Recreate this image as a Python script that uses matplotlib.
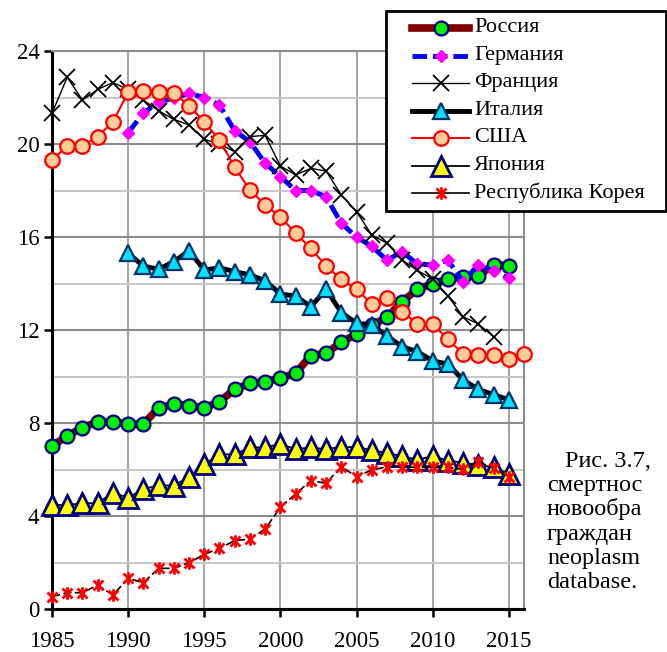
import numpy as np
import matplotlib
matplotlib.use("Agg")
import matplotlib.pyplot as plt
from matplotlib.patches import Rectangle
from matplotlib.path import Path


# --- data ---
years_ru = np.arange(1985, 2016)
russia = [7.0, 7.45, 7.8, 8.05, 8.05, 7.95, 7.95, 8.65, 8.82, 8.75, 8.65, 8.92, 9.45, 9.7,
          9.78, 9.93, 10.14, 10.9, 11.0, 11.47, 11.83, 12.2, 12.55, 13.22, 13.75, 14.0,
          14.18, 14.3, 14.34, 14.8, 14.77]

years_de = np.arange(1990, 2016)
germany = [20.49, 21.32, 21.82, 21.96, 22.18, 22.0, 21.68, 20.57, 20.1, 19.17, 18.6, 18.0,
           18.0, 17.73, 16.59, 16.0, 15.6, 15.0, 15.37, 14.83, 14.8, 15.0, 14.08, 14.8,
           14.54, 14.22]

years_fr = np.arange(1985, 2015)
france = [21.32, 22.87, 21.89, 22.35, 22.64, 22.35, 21.89, 21.43, 21.06, 20.82, 20.2, 20.0,
          19.67, 20.32, 20.37, 19.05, 18.67, 18.95, 18.84, 17.81, 17.09, 16.09, 15.73,
          15.01, 14.56, 14.2, 13.47, 12.57, 12.26, 11.71]

years_it = np.arange(1990, 2016)
italy = [15.3, 14.75, 14.61, 14.94, 15.41, 14.58, 14.68, 14.51, 14.37, 14.12, 13.55, 13.46,
         13.0, 13.75, 12.75, 12.29, 12.22, 11.74, 11.28, 11.07, 10.67, 10.54, 9.85, 9.45,
         9.22, 9.0]

years_us = np.arange(1985, 2017)
usa = [19.31, 19.91, 19.91, 20.32, 20.96, 22.22, 22.3, 22.25, 22.18, 21.65, 20.96, 20.17,
       19.0, 18.02, 17.38, 16.87, 16.16, 15.51, 14.75, 14.18, 13.75, 13.12, 13.36, 12.79,
       12.26, 12.26, 11.6, 10.97, 10.91, 10.91, 10.75, 10.97]

years_jp = np.arange(1985, 2016)
japan = [4.47, 4.47, 4.55, 4.55, 5.0, 4.79, 5.15, 5.33, 5.3, 5.69, 6.22, 6.65, 6.65, 6.95,
         6.95, 7.1, 6.87, 6.95, 6.87, 6.98, 6.95, 6.84, 6.7, 6.58, 6.41, 6.58, 6.38, 6.29,
         6.2, 6.09, 5.81]

years_kr = np.arange(1985, 2016)
korea = [0.53, 0.7, 0.7, 1.03, 0.6, 1.32, 1.13, 1.75, 1.75, 1.99, 2.35, 2.61, 2.94, 3.01,
         3.44, 4.37, 4.95, 5.52, 5.41, 6.12, 5.69, 5.98, 6.12, 6.12, 6.09, 6.09, 6.09, 6.01,
         6.34, 6.05, 5.69]

labels = ["Россия", "Германия", "Франция", "Италия", "США", "Япония", "Республика Корея"]

# caption fragment visible at the right edge of the reference
caption = ["Рис. 3.7,", "смертнос", "новообра", "граждан", "neoplasm", "database."]

SERIF = ["Liberation Serif", "DejaVu Serif"]


def main():
    plt.rcParams.update(
        {
            "font.family": SERIF,
            "font.size": 16,
            "axes.linewidth": 1.5,
        }
    )

    # Excel-like "star" marker: x plus vertical bar
    star = Path(
        [(0, -1), (0, 1), (-0.8, -0.8), (0.8, 0.8), (-0.8, 0.8), (0.8, -0.8)],
        [Path.MOVETO, Path.LINETO] * 3,
    )

    styles = [
        dict(color="#800000", lw=5.5, marker="o", ms=10, mfc="#00ee00", mec="#000080", mew=1.6),
        dict(color="#0000ff", lw=3.5, dashes=(3, 1.2), marker="D", ms=6.5, mfc="#ff00ff",
             mec="#ff00ff", mew=1),
        dict(color="black", lw=1.0, marker="x", ms=12, mec="black", mew=1.3),
        dict(color="black", lw=3.5, marker="^", ms=11, mfc="#00e0ff", mec="#003366", mew=1.6),
        dict(color="#ff0000", lw=1.5, marker="o", ms=10.5, mfc="#ffcc99", mec="#ff0000", mew=1.6),
        dict(color="black", lw=1.3, marker="^", ms=14, mfc="#ffff00", mec="#000080", mew=2),
        dict(color="black", lw=1.2, dashes=(5, 2), marker=star, ms=9, mec="#ff0000", mew=2),
    ]
    series = [
        (years_ru, russia),
        (years_de, germany),
        (years_fr, france),
        (years_it, italy),
        (years_us, usa),
        (years_jp, japan),
        (years_kr, korea),
    ]

    fig = plt.figure(figsize=(6.67, 6.52), dpi=100)
    ax = fig.add_axes([52 / 667, 1 - 609 / 652, 472 / 667, 558 / 652])

    for (x, y), st in zip(series, styles):
        ax.plot(x, y, clip_on=False, zorder=3, **st)

    ax.set_xlim(1985, 2016)
    ax.set_ylim(0, 24)
    ax.set_xticks(np.arange(1985, 2016, 5))
    ax.set_yticks(np.arange(0, 25, 4))
    ax.set_yticks(np.arange(2, 24, 4), minor=True)

    ax.set_axisbelow(True)
    ax.grid(which="major", axis="y", color="#8c8c8c", lw=1.5)
    ax.grid(which="minor", axis="y", color="#c8c8c8", lw=1.5)
    ax.grid(which="major", axis="x", color="#a6a6a6", lw=1.5)

    for side in ["left", "bottom"]:
        ax.spines[side].set_color("black")
        ax.spines[side].set_linewidth(2.2)
    for side in ["top", "right"]:
        ax.spines[side].set_color("#8c8c8c")
        ax.spines[side].set_linewidth(1.5)

    ax.tick_params(which="major", direction="out", length=6, width=1.8, labelsize=16.5)
    ax.tick_params(axis="x", pad=10)
    ax.tick_params(axis="y", pad=3)
    ax.tick_params(which="minor", length=0)
    for lab in ax.get_xticklabels() + ax.get_yticklabels():
        lab.set_fontfamily(SERIF)

    # legend box, drawn by hand to match the reference placement
    lax = fig.add_axes([386 / 667, 1 - 211 / 652, 280 / 667, 200 / 652])
    lax.set_xlim(0, 280)
    lax.set_ylim(200, 0)
    lax.axis("off")
    lax.add_patch(Rectangle((0, 0), 280, 200, facecolor="white", edgecolor="black",
                            lw=2, clip_on=False))
    for i, (lab, st) in enumerate(zip(labels, styles)):
        yy = 17 + 27.5 * i
        st = dict(st)
        if i == 6:
            st.pop("dashes")
        lax.plot([26, 54.5, 83], [yy] * 3, markevery=[1], clip_on=False, **st)
        lax.text(88, yy, lab, va="center", ha="left", fontsize=16)

    for i, line in enumerate(caption):
        x0 = 565 if i == 0 else 547
        fig.text(x0 / 667, 1 - (467 + 24.2 * i) / 652, line, fontsize=17.5,
                 va="baseline", ha="left")

    fig.savefig("out.png", dpi=100)
    plt.close(fig)


if __name__ == "__main__":
    main()
